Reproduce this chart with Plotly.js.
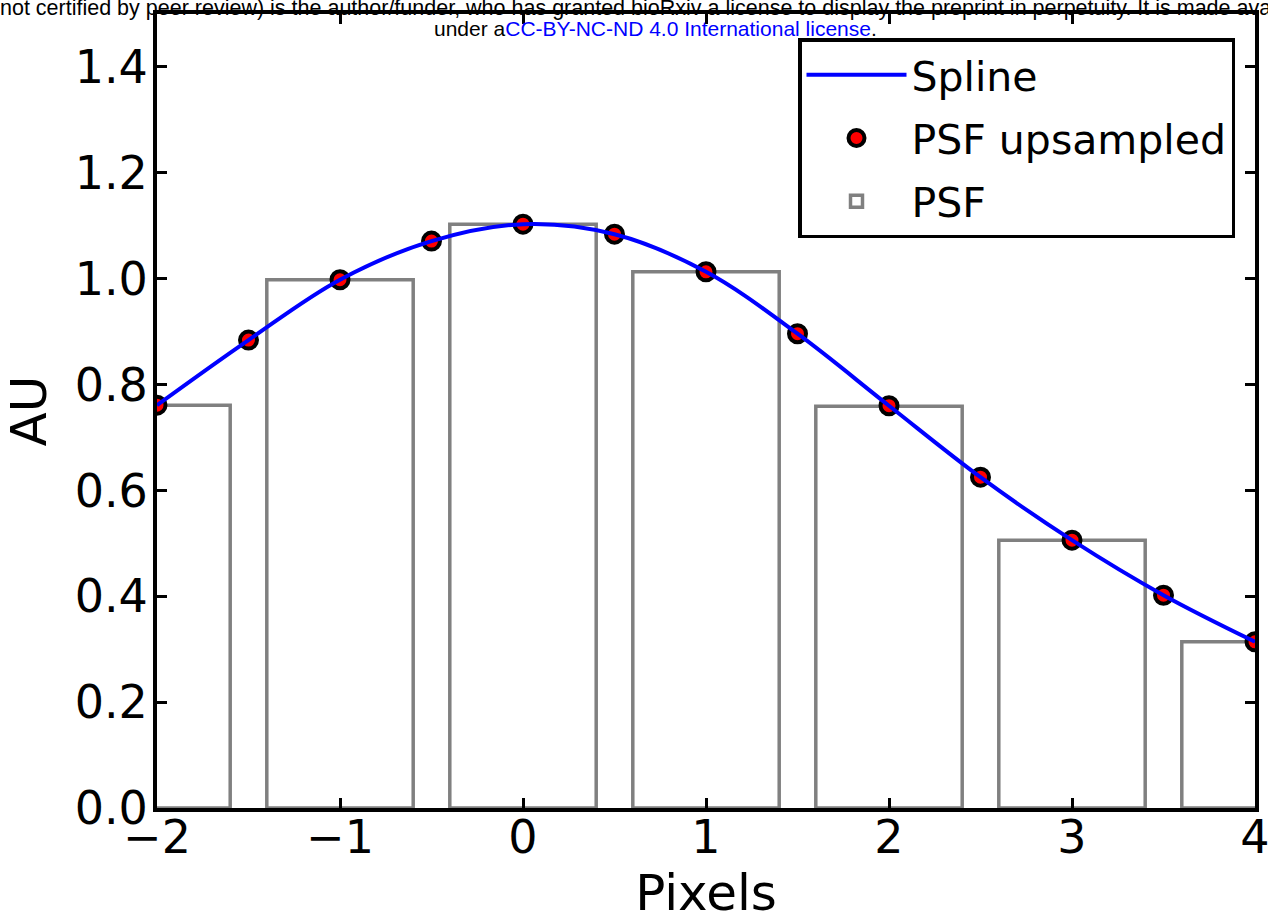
<!DOCTYPE html>
<html>
<head>
<meta charset="utf-8">
<script src="https://cdn.plot.ly/plotly-3.0.1.min.js"></script>
<style>html,body{margin:0;padding:0;background:#fff;}#chart{width:1268px;height:922px;}</style>
</head>
<body>
<div id="chart"></div>
<script>
// PSF pixel bins (integer centres)
const psfX = [-2, -1, 0, 1, 2, 3, 4];
const psfY = [0.761, 0.998, 1.103, 1.013, 0.759, 0.506, 0.314];
// upsampled PSF points (half-pixel steps)
const upX = [-2, -1.5, -1, -0.5, 0, 0.5, 1, 1.5, 2, 2.5, 3, 3.5, 4];
const upY = [0.761, 0.884, 0.998, 1.071, 1.103, 1.084, 1.013, 0.896, 0.760, 0.625, 0.506, 0.402, 0.314];
const xTicks = [-2, -1, 0, 1, 2, 3, 4];
const yTicks = [0.0, 0.2, 0.4, 0.6, 0.8, 1.0, 1.2, 1.4];

const traces = [
  {
    type: 'bar', x: psfX, y: psfY, width: 0.8, name: 'PSF', legendrank: 3, legendgroup: 'c',
    marker: {color: 'rgba(255,255,255,0)', line: {color: '#808080', width: 3.5}}
  },
  {
    type: 'scatter', mode: 'markers', x: upX, y: upY, name: 'PSF upsampled', legendrank: 2, legendgroup: 'b',
    marker: {color: '#ff0000', size: 17, line: {color: '#000', width: 4}}
  },
  {
    type: 'scatter', mode: 'lines', x: upX, y: upY, name: 'Spline', legendrank: 1, legendgroup: 'a',
    line: {color: '#0000ff', width: 4, shape: 'spline', smoothing: 1}
  }
];

const axisCommon = {
  showgrid: false, zeroline: false, showline: true, linecolor: '#000', linewidth: 4,
  mirror: 'ticks', ticks: 'inside', ticklen: 10, tickwidth: 3, tickcolor: '#000',
  ticklabeloverflow: 'allow',
  tickfont: {family: 'DejaVu Sans', size: 46, color: '#000'}
};

const layout = {
  width: 1268, height: 922,
  margin: {l: 157, r: 13, t: 14, b: 114},
  paper_bgcolor: '#fff', plot_bgcolor: '#fff',
  font: {family: 'DejaVu Sans', color: '#000'},
  bargap: 0,
  xaxis: Object.assign({}, axisCommon, {
    range: [-2, 4], tickvals: xTicks, ticktext: xTicks.map(v => v < 0 ? '\u2212' + Math.abs(v) : String(v)),
    ticklabelstandoff: -14,
    title: {text: 'Pixels', font: {family: 'DejaVu Sans', size: 50, color: '#000'}, standoff: 4}
  }),
  yaxis: Object.assign({}, axisCommon, {
    range: [0, 1.5], tickvals: yTicks, ticktext: yTicks.map(v => v.toFixed(1)),
    ticklabelstandoff: -4,
    title: {text: 'AU', font: {family: 'DejaVu Sans', size: 50, color: '#000'}, standoff: 14}
  }),
  showlegend: true,
  legend: {
    x: (1235 - 157) / 1098, xanchor: 'right', y: (808 - 38) / 794, yanchor: 'top',
    bgcolor: '#fff', bordercolor: '#000', borderwidth: 3.5,
    font: {family: 'DejaVu Sans', size: 41, color: '#000'},
    traceorder: 'grouped', tracegroupgap: 7, itemwidth: 100
  },
  annotations: [
    {xref: 'paper', yref: 'paper', x: -157/1098 - 0.002, xanchor: 'left', y: 1 + 6/794, yanchor: 'middle',
     showarrow: false, align: 'left',
     text: 'not certified by peer review) is the author/funder, who has granted bioRxiv a license to display the preprint in perpetuity. It is made available',
     font: {family: 'Liberation Sans', size: 21.5, color: '#000'}},
    {xref: 'paper', yref: 'paper', x: (655-157)/1098, xanchor: 'center', y: 1 - 14/794, yanchor: 'middle',
     showarrow: false,
     text: 'under a<span style="fill:#0000ff">CC-BY-NC-ND 4.0 International license</span>.',
     font: {family: 'Liberation Sans', size: 21, color: '#000'}}
  ]
};

Plotly.newPlot('chart', traces, layout, {displayModeBar: false, staticPlot: true});
</script>
</body>
</html>
